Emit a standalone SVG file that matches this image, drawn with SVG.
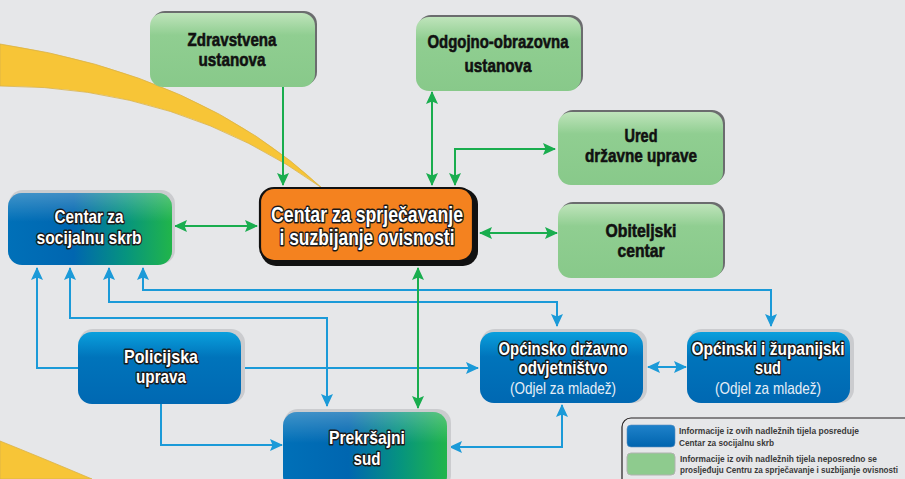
<svg xmlns="http://www.w3.org/2000/svg" width="905" height="479" viewBox="0 0 905 479">
<style>
.t{font-family:"Liberation Sans",Arial,sans-serif;font-weight:bold;text-anchor:middle}
.k{fill:#111;font-size:19px;stroke:#111;stroke-width:0.6}
.w{fill:#fff;font-size:19px;stroke:#1a1a1a;stroke-width:3;paint-order:stroke;stroke-linejoin:round}
.o{font-size:22px}
.s{font-family:"Liberation Sans",Arial,sans-serif;font-weight:normal;font-size:16.5px;fill:#e6eef7;text-anchor:middle}
.lg{font-family:"Liberation Sans",Arial,sans-serif;font-weight:bold;font-size:9.2px;fill:#3a3a3a}
.gl{fill:none;stroke:#19ad4e;stroke-width:2}
.bl{fill:none;stroke:#1b9ad8;stroke-width:2}
.shg{fill:#6b6c6e}
.shb{fill:#cbcccf}
</style>
<defs>
<linearGradient id="gGreen" x1="0" y1="0" x2="0" y2="1">
<stop offset="0" stop-color="#bfe4bb"/><stop offset="0.3" stop-color="#90ce91"/><stop offset="1" stop-color="#88c98a"/>
</linearGradient>
<linearGradient id="gBlue" x1="0" y1="0" x2="0" y2="1">
<stop offset="0" stop-color="#0aa0dd"/><stop offset="0.35" stop-color="#0074bb"/><stop offset="1" stop-color="#0068b2"/>
</linearGradient>
<linearGradient id="gBG" x1="0" y1="0" x2="1" y2="0">
<stop offset="0" stop-color="#0070b8"/><stop offset="0.4" stop-color="#0066b0"/><stop offset="0.72" stop-color="#06947e"/><stop offset="1" stop-color="#21b54a"/>
</linearGradient>
<linearGradient id="gHL" x1="0" y1="0" x2="0" y2="1">
<stop offset="0" stop-color="#ffffff" stop-opacity="0.25"/><stop offset="0.4" stop-color="#ffffff" stop-opacity="0"/>
</linearGradient>
<linearGradient id="gSwB" x1="0" y1="0" x2="0" y2="1">
<stop offset="0" stop-color="#1f82ca"/><stop offset="1" stop-color="#0064ae"/>
</linearGradient>
<marker id="ag" markerUnits="userSpaceOnUse" markerWidth="13" markerHeight="12" refX="12" refY="6" orient="auto-start-reverse" viewBox="0 0 13 12">
<path d="M0,0 L13,6 L0,12 L2.5,6 Z" fill="#19ad4e"/>
</marker>
<marker id="ab" markerUnits="userSpaceOnUse" markerWidth="13" markerHeight="12" refX="12" refY="6" orient="auto-start-reverse" viewBox="0 0 13 12">
<path d="M0,0 L13,6 L0,12 L2.5,6 Z" fill="#1b9ad8"/>
</marker>
</defs>
<rect x="0" y="0" width="905" height="479" fill="#e6e7e9"/>
<path d="M0,44 Q200,74 322,188 Q180,86 0,86 Z" fill="#f7c537" stroke="#d9b24a" stroke-width="0.8"/>
<path d="M0,441 Q40,457 92,479 L0,479 Z" fill="#f7c537" stroke="#d9b24a" stroke-width="0.8"/>

<g id="connectors">
<path class="gl" d="M283,87 V185" marker-end="url(#ag)"/>
<path class="gl" d="M432,92 V185" marker-start="url(#ag)" marker-end="url(#ag)"/>
<path class="gl" d="M455,185 V149 H555" marker-start="url(#ag)" marker-end="url(#ag)"/>
<path class="gl" d="M480,233 H557" marker-start="url(#ag)" marker-end="url(#ag)"/>
<path class="gl" d="M175,226 H257" marker-start="url(#ag)" marker-end="url(#ag)"/>
<path class="bl" d="M78,368 H37 V268" marker-end="url(#ab)"/>
<path class="bl" d="M70,268 V318 H327 V406" marker-start="url(#ab)" marker-end="url(#ab)"/>
<path class="bl" d="M109,268 V302 H557 V326" marker-start="url(#ab)" marker-end="url(#ab)"/>
<path class="bl" d="M143,268 V290 H771 V326" marker-start="url(#ab)" marker-end="url(#ab)"/>
<path class="bl" d="M241,368 H478" marker-end="url(#ab)"/>
<path class="bl" d="M161,404 V445 H282" marker-end="url(#ab)"/>
<path class="bl" d="M450,447 H562 V405" marker-start="url(#ab)" marker-end="url(#ab)"/>
<path class="bl" d="M648,367 H686" marker-start="url(#ab)" marker-end="url(#ab)"/>
<path class="gl" d="M418,268 V408" marker-start="url(#ag)" marker-end="url(#ag)"/>
</g>

<g id="zdravstvena">
<rect class="shg" x="152" y="11" width="165" height="74" rx="13"/>
<rect x="150" y="13" width="165" height="74" rx="13" fill="url(#gGreen)"/>
<text class="t k" x="232" y="46" textLength="89" lengthAdjust="spacingAndGlyphs">Zdravstvena</text>
<text class="t k" x="232" y="66" textLength="67" lengthAdjust="spacingAndGlyphs">ustanova</text>
</g>
<g id="odgojno">
<rect class="shg" x="418" y="15" width="165" height="74" rx="13"/>
<rect x="416" y="17" width="165" height="74" rx="13" fill="url(#gGreen)"/>
<text class="t k" x="498" y="48" textLength="141" lengthAdjust="spacingAndGlyphs">Odgojno-obrazovna</text>
<text class="t k" x="498" y="72" textLength="67" lengthAdjust="spacingAndGlyphs">ustanova</text>
</g>
<g id="ured">
<rect class="shg" x="560" y="110" width="165" height="73" rx="13"/>
<rect x="558" y="112" width="165" height="73" rx="13" fill="url(#gGreen)"/>
<text class="t k" x="641" y="142" textLength="33" lengthAdjust="spacingAndGlyphs">Ured</text>
<text class="t k" x="641" y="162" textLength="112" lengthAdjust="spacingAndGlyphs">državne uprave</text>
</g>
<g id="obiteljski">
<rect class="shg" x="560" y="202" width="165" height="74" rx="13"/>
<rect x="558" y="204" width="165" height="74" rx="13" fill="url(#gGreen)"/>
<text class="t k" x="641" y="237" textLength="71" lengthAdjust="spacingAndGlyphs">Obiteljski</text>
<text class="t k" x="641" y="257" textLength="47" lengthAdjust="spacingAndGlyphs">centar</text>
</g>
<g id="centar-ovisnosti">
<rect x="261" y="189" width="217" height="77" rx="15" fill="#111"/>
<rect x="260" y="188" width="213" height="73" rx="14" fill="#f4821f" stroke="#111" stroke-width="2.2"/>
<text class="t w o" x="367" y="222" textLength="192" lengthAdjust="spacingAndGlyphs">Centar za sprječavanje</text>
<text class="t w o" x="367" y="245" textLength="175" lengthAdjust="spacingAndGlyphs">i suzbijanje ovisnosti</text>
</g>
<g id="socijalna">
<rect class="shb" x="9" y="190" width="166" height="74" rx="14"/>
<rect x="8" y="193" width="164" height="72" rx="14" fill="url(#gBG)"/>
<rect x="8" y="193" width="164" height="72" rx="14" fill="url(#gHL)"/>
<text class="t w" x="89" y="223" textLength="69" lengthAdjust="spacingAndGlyphs">Centar za</text>
<text class="t w" x="89" y="244" textLength="105" lengthAdjust="spacingAndGlyphs">socijalnu skrb</text>
</g>
<g id="policijska">
<rect class="shb" x="79" y="329" width="166" height="74" rx="14"/>
<rect x="78" y="332" width="163" height="72" rx="14" fill="url(#gBlue)"/>
<text class="t w" x="161" y="363" textLength="74" lengthAdjust="spacingAndGlyphs">Policijska</text>
<text class="t w" x="161" y="383" textLength="50" lengthAdjust="spacingAndGlyphs">uprava</text>
</g>
<g id="prekrsajni">
<rect class="shb" x="284" y="409" width="167" height="80" rx="14"/>
<rect x="283" y="412" width="164" height="78" rx="14" fill="url(#gBG)"/>
<rect x="283" y="412" width="164" height="78" rx="14" fill="url(#gHL)"/>
<text class="t w" x="367" y="444" textLength="76" lengthAdjust="spacingAndGlyphs">Prekršajni</text>
<text class="t w" x="367" y="465" textLength="27" lengthAdjust="spacingAndGlyphs">sud</text>
</g>
<g id="odvjetnistvo">
<rect class="shb" x="481" y="329" width="166" height="74" rx="14"/>
<rect x="480" y="332" width="163" height="71" rx="14" fill="url(#gBlue)"/>
<text class="t w" x="563" y="355" textLength="129" lengthAdjust="spacingAndGlyphs">Općinsko državno</text>
<text class="t w" x="563" y="374" textLength="89" lengthAdjust="spacingAndGlyphs">odvjetništvo</text>
<text class="s" x="563" y="394" textLength="106" lengthAdjust="spacingAndGlyphs">(Odjel za mladež)</text>
</g>
<g id="sud">
<rect class="shb" x="688" y="329" width="166" height="74" rx="14"/>
<rect x="687" y="332" width="163" height="71" rx="14" fill="url(#gBlue)"/>
<text class="t w" x="768" y="355" textLength="153" lengthAdjust="spacingAndGlyphs">Općinski i županijski</text>
<text class="t w" x="768" y="374" textLength="26" lengthAdjust="spacingAndGlyphs">sud</text>
<text class="s" x="768" y="394" textLength="106" lengthAdjust="spacingAndGlyphs">(Odjel za mladež)</text>
</g>
<g id="legenda">
<rect x="622" y="418" width="300" height="80" rx="9" fill="none" stroke="#231f20" stroke-width="1.2"/>
<rect x="627" y="425" width="48" height="22" rx="4" fill="url(#gSwB)" stroke="#5a8fc0" stroke-width="0.6"/>
<rect x="627" y="453" width="48" height="22" rx="4" fill="#8ecb8e" stroke="#b0b3b0" stroke-width="1"/>
<text class="lg" x="679" y="434" textLength="180" lengthAdjust="spacingAndGlyphs">Informacije iz ovih nadležnih tijela posreduje</text>
<text class="lg" x="679" y="445.5" textLength="95" lengthAdjust="spacingAndGlyphs">Centar za socijalnu skrb</text>
<text class="lg" x="680" y="462" textLength="197" lengthAdjust="spacingAndGlyphs">Informacije iz ovih nadležnih tijela neposredno se</text>
<text class="lg" x="680" y="473" textLength="218" lengthAdjust="spacingAndGlyphs">prosljeđuju Centru za sprječavanje i suzbijanje ovisnosti</text>
</g>
</svg>
